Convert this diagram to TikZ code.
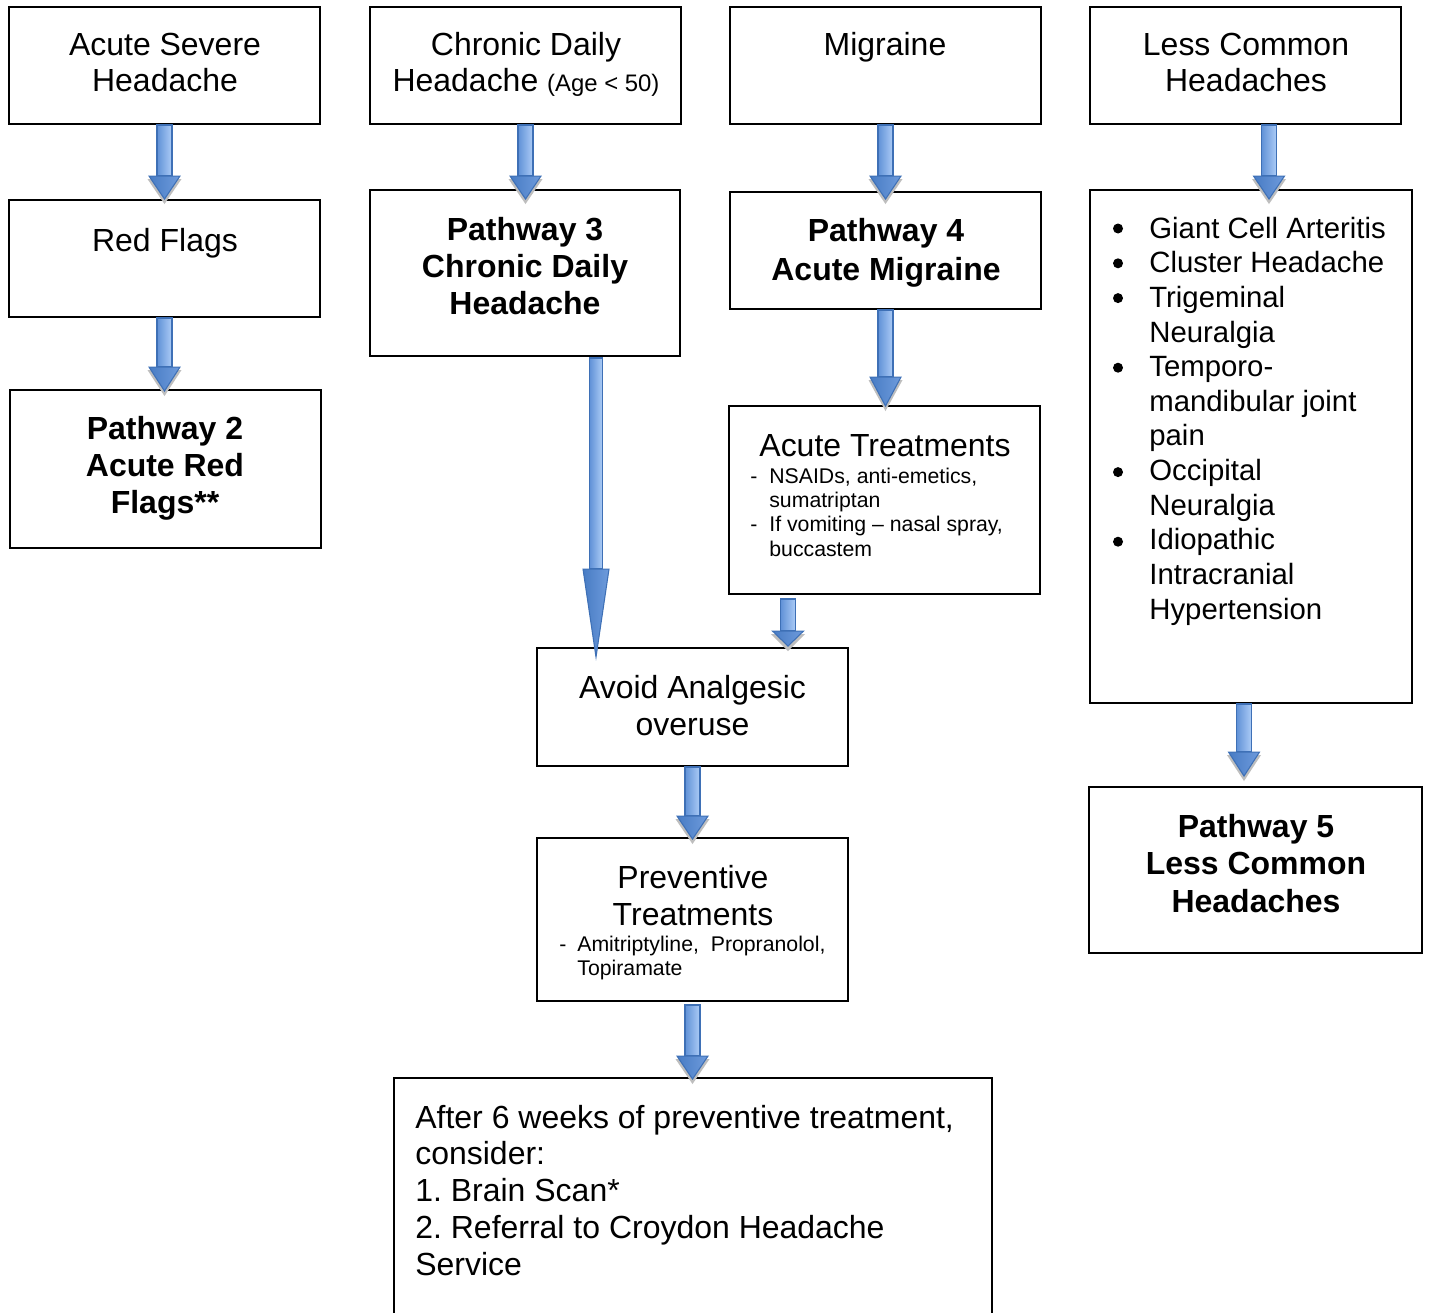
\documentclass[tikz,border=0pt]{standalone}
\usepackage{fontspec}
\setmainfont{Liberation Sans}
\usetikzlibrary{calc,fit}
\frenchspacing
\definecolor{arrdark}{RGB}{62,112,182}
\definecolor{arrmid}{RGB}{96,145,215}
\definecolor{arrlight}{RGB}{172,204,246}
\definecolor{arrhead}{RGB}{72,124,196}
\definecolor{arrheadlight}{RGB}{110,155,220}
\definecolor{arrshadow}{RGB}{190,190,190}
\newcommand\ttl{\fontsize{18.2pt}{21pt}\selectfont}
\newcommand\sml{\fontsize{12.1pt}{13.9pt}\selectfont}
\newcommand\lst{\fontsize{16.7pt}{19.73pt}\selectfont}
\newcommand\agesz{\fontsize{13.6pt}{16pt}\selectfont}
\newcommand\bul{\makebox[0.74cm][l]{}}
\newcommand\blockarr[3]{%
  \coordinate (tmpT) at (#1 |- #2);
  \fill[arrshadow] ($(tmpT)+(-17,3-#3)$) -- ($(tmpT)+(17,3-#3)$) -- ($(tmpT)+(0,5)$) -- cycle;
  \shade[left color=arrmid, right color=arrlight, draw=arrdark, line width=0.8pt] ($(#1)+(-7.5,0)$) rectangle ($(tmpT)+(7.5,-#3)$);
  \shade[left color=arrhead, right color=arrheadlight, draw=arrdark, line width=0.6pt] ($(tmpT)+(-15.5,-#3)$) -- ($(tmpT)+(15.5,-#3)$) -- (tmpT) -- cycle;
}
\tikzset{
  box/.style={draw=black, line width=1.1pt, inner sep=0pt, rectangle},
  txt/.style={inner sep=0pt, anchor=base},
  ltxt/.style={inner sep=0pt, anchor=base west},
  bulletdot/.style={fill=black},
}
\begin{document}
\begin{tikzpicture}[x=0.02cm, y=-0.02cm]
\useasboundingbox (0,0) rectangle (1429,1312);
\clip (0,0) rectangle (1429,1312);
\fill[white] (0,0) rectangle (1429,1312);

% boxes
\node[box, fit={(9,7) (320,124)}] (asev) {};
\node[box, fit={(9,200) (320,317)}] (redf) {};
\node[box, fit={(10,390) (321,548)}] (p2) {};
\node[box, fit={(370,7) (681,124)}] (cdh) {};
\node[box, fit={(370,190) (680,356)}] (p3) {};
\node[box, fit={(730,7) (1041,124)}] (mig) {};
\node[box, fit={(730,192) (1041,309)}] (p4) {};
\node[box, fit={(729,406) (1040,594)}] (at) {};
\node[box, fit={(1090,7) (1401,124)}] (lc) {};
\node[box, fit={(1090,190) (1412,703)}] (lst) {};
\node[box, fit={(1089,787) (1422,953)}] (p5) {};
\node[box, fit={(537,648) (848,766)}] (avoid) {};
\node[box, fit={(537,838) (848,1001)}] (prev) {};
\node[box, fit={(394,1078) (992,1340)}] (after) {};

% texts
\node[txt, font=\ttl] (asevt) at (165,55) {\begin{tabular}[t]{@{}c@{}}Acute Severe\\Headache\end{tabular}};
\node[txt, font=\ttl] (redft) at (165,251.5) {Red Flags};
\node[txt, font=\ttl\bfseries] (p2t) at (165,439.5) {\begin{tabular}[t]{@{}c@{}}Pathway 2\\Acute Red\\Flags**\end{tabular}};
\node[txt, font=\ttl] (cdht) at (526,55) {\begin{tabular}[t]{@{}c@{}}Chronic Daily\\Headache {\agesz(Age < 50)}\end{tabular}};
\node[txt, font=\ttl\bfseries] (p3t) at (525,240.5) {\begin{tabular}[t]{@{}c@{}}Pathway 3\\Chronic Daily\\Headache\end{tabular}};
\node[txt, font=\ttl] (migt) at (885,55) {Migraine};
\node[txt, font=\ttl\bfseries] (p4t) at (886,241.5) {\begin{tabular}[t]{@{}c@{}}Pathway 4\\[1.1pt]Acute Migraine\end{tabular}};
\node[txt, font=\ttl] (lct) at (1246,55) {\begin{tabular}[t]{@{}c@{}}Less Common\\Headaches\end{tabular}};
\node[txt, font=\ttl] (att) at (885,456.5) {Acute Treatments};
\node[ltxt, font=\sml] (atl) at (750,483) {\begin{tabular}[t]{@{}l@{}l@{}}\makebox[0.38cm][l]{-}&NSAIDs, anti-emetics,\\ &sumatriptan\\ \makebox[0.38cm][l]{-}&If vomiting -- nasal spray,\\ &buccastem\end{tabular}};
\node[ltxt, font=\lst] (lstt) at (1112,238) {\begin{tabular}[t]{@{}l@{}l@{}}\bul&Giant Cell Arteritis\\
\bul&Cluster Headache\\
\bul&Trigeminal\\ &Neuralgia\\
\bul&Temporo-\\ &mandibular joint\\ &pain\\
\bul&Occipital\\ &Neuralgia\\
\bul&Idiopathic\\ &Intracranial\\ &Hypertension\end{tabular}};
% list bullets
\foreach \by in {238, 272.8, 307.6, 377.2, 481.6, 551.2}
  \fill[bulletdot] (1118,\by-9.5) circle[radius=0.1cm];
\node[txt, font=\ttl\bfseries] (p5t) at (1256,837.5) {\begin{tabular}[t]{@{}c@{}}Pathway 5\\Less Common\\[0.6pt]Headaches\end{tabular}};
\node[txt, font=\ttl] (avoidt) at (692.5,698.5) {\begin{tabular}[t]{@{}c@{}}Avoid Analgesic\\overuse\end{tabular}};
\node[txt, font=\ttl] (prevt) at (693,888.5) {\begin{tabular}[t]{@{}c@{}}Preventive\\Treatments\end{tabular}};
\node[ltxt, font=\sml] (prevl) at (559,951) {\begin{tabular}[t]{@{}l@{}l@{}}\makebox[0.36cm][l]{-}&Amitriptyline,\ \ Propranolol,\\ &Topiramate\end{tabular}};
\node[ltxt, font=\ttl] (aftert) at (415,1128) {\begin{tabular}[t]{@{}l@{}}After 6 weeks of preventive treatment,\\consider:\\1. Brain Scan*\\2. Referral to Croydon Headache\\Service\end{tabular}};

% arrow anchor points
\coordinate (s1) at (asev.south);            \coordinate (e1) at (redf.north);
\coordinate (s2) at (redf.south);            \coordinate (e2) at ($(p2.north)+(0,2)$);
\coordinate (s3) at (cdh.south);             \coordinate (e3) at ($(p3.north)+(0,10)$);
\coordinate (s4) at (mig.south);             \coordinate (e4) at ($(p4.north)+(0,8)$);
\coordinate (s5) at ($(lc.south)+(23.5,0)$); \coordinate (e5) at ($(lst.north)+(0,10)$);
\coordinate (s6) at (p4.south);              \coordinate (e6) at ($(at.north)+(0,1)$);
\coordinate (s7) at ($(p3.south)+(71,1)$);   \coordinate (e7) at ($(avoid.north)+(0,10)$);
\coordinate (s8) at ($(at.south)+(-96.5,4)$);\coordinate (e8) at ($(avoid.north)+(0,-1)$);
\coordinate (s9) at (avoid.south);           \coordinate (e9) at ($(prev.north)+(0,2)$);
\coordinate (s10) at ($(prev.south)+(0,3)$); \coordinate (e10) at ($(after.north)+(0,2)$);
\coordinate (s11) at ($(lst.south)+(-7,0)$); \coordinate (e11) at ($(p5.north)+(0,-10)$);

\blockarr{s1}{e1}{23}
\blockarr{s2}{e2}{24}
\blockarr{s3}{e3}{23}
\blockarr{s4}{e4}{23}
\blockarr{s5}{e5}{23}
\blockarr{s6}{e6}{29}
\blockarr{s8}{e8}{15}
\blockarr{s9}{e9}{23}
\blockarr{s10}{e10}{23}
\blockarr{s11}{e11}{24}
% long arrow (thinner)
\coordinate (tL) at (s7 |- e7);
\shade[left color=arrmid, right color=arrlight, draw=arrdark, line width=0.8pt] ($(s7)+(-6.5,0)$) rectangle ($(tL)+(6.5,-88)$);
\shade[left color=arrhead, right color=arrheadlight, draw=arrdark, line width=0.6pt] ($(tL)+(-13,-88)$) -- ($(tL)+(13,-88)$) -- (tL) -- cycle;
\end{tikzpicture}
\end{document}
